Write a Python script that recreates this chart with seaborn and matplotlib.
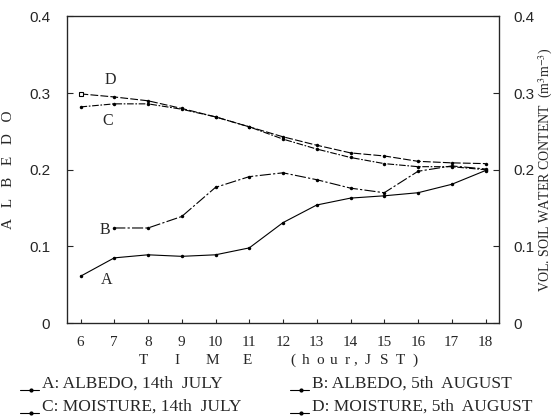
import matplotlib
matplotlib.use("Agg")
import matplotlib.pyplot as plt
import seaborn as sns
import pandas as pd
import numpy as np
from matplotlib.lines import Line2D

hours = [6, 7, 8, 9, 10, 11, 12, 13, 14, 15, 16, 17, 18]
albedo_jul = [0.061, 0.085, 0.089, 0.087, 0.089, 0.098, 0.131, 0.154, 0.163, 0.166, 0.170, 0.181, 0.199]
albedo_aug = [np.nan, 0.124, 0.124, 0.139, 0.177, 0.191, 0.196, 0.187, 0.176, 0.170, 0.198, 0.205, 0.201]
moist_jul = [0.282, 0.286, 0.286, 0.279, 0.269, 0.256, 0.240, 0.227, 0.216, 0.208, 0.204, 0.204, 0.200]
moist_aug = [0.299, 0.295, 0.290, 0.280, 0.269, 0.256, 0.243, 0.232, 0.222, 0.218, 0.211, 0.209, 0.208]
series_names = ["A", "B", "C", "D"]
legend_labels = ["A: ALBEDO, 14th  JULY", "B: ALBEDO, 5th  AUGUST",
                 "C: MOISTURE, 14th  JULY", "D: MOISTURE, 5th  AUGUST"]
y_ticks = [0, 0.1, 0.2, 0.3, 0.4]
y_ticklabels = ["0", "0.1", "0.2", "0.3", "0.4"]
xlabel_chars = ["T", "I", "M", "E", "(", "h", "o", "u", "r", ",", "J", "S", "T", ")"]

sns.set_style("ticks")
plt.rcParams["font.family"] = ["Liberation Serif", "DejaVu Serif"]
plt.rcParams["mathtext.fontset"] = "stix"

df = pd.DataFrame({"hour": hours * 4,
                   "value": albedo_jul + albedo_aug + moist_jul + moist_aug,
                   "series": sum([[s] * len(hours) for s in series_names], [])})

W, H = 555, 419
fig = plt.figure(figsize=(5.55, 4.19), dpi=100)
ax = fig.add_axes([67 / W, 1 - 323 / H, (499 - 67) / W, (323 - 16.5) / H])

styles = {"A": "-", "B": (0, (10, 2, 2, 2)), "C": (0, (6, 1.5, 1.5, 1.5)), "D": (0, (7, 2))}
for s in series_names:
    sub = df[df["series"] == s].dropna()
    sns.lineplot(data=sub, x="hour", y="value", ax=ax, color="black", lw=0.8,
                 linestyle=styles[s], marker="o", markersize=2.5, markeredgewidth=0,
                 legend=False)
ax.plot(hours[0], moist_aug[0], marker="s", markersize=3.5, mfc="white", mec="black", mew=0.8)

ax.set_xlim(5.6, 18.4)
ax.set_ylim(0, 0.4)
ax.set_xticks(hours)
ax.set_xticklabels([str(h) for h in hours], fontsize=11)
ax.set_yticks(y_ticks)
ax.set_yticklabels(y_ticklabels, fontsize=11, family="Liberation Sans")
ax.tick_params(axis="y", direction="in", length=4, width=0.8, pad=12)
ax.tick_params(axis="x", direction="in", length=3, width=0.8, pad=9)
for sp in ax.spines.values():
    sp.set_linewidth(0.9)
    sp.set_visible(True)
ax.set_xlabel("")
ax.set_ylabel("A   L   B   E   D   O", fontsize=11, labelpad=10)

ax2 = ax.twinx()
ax2.set_ylim(0, 0.4)
ax2.set_yticks(y_ticks)
ax2.set_yticklabels(y_ticklabels, fontsize=11, family="Liberation Sans")
ax2.tick_params(direction="in", length=4, width=0.8, pad=10)
ax2.set_ylabel(r"VOL. SOIL WATER CONTENT  (m$^3$m$^{-3}$)", fontsize=10, labelpad=2)

# x-axis title, letter-spaced
xl_pos = [143, 177, 212, 247, 293, 306, 320, 334, 347, 355, 368, 384, 400, 415]
for ch, px in zip(xlabel_chars, xl_pos):
    fig.text(px / W, 1 - 360 / H, ch, fontsize=11, ha="center", va="center")

# Curve letters
ax.text(6.87, 0.317, "D", fontsize=11.5, ha="center", va="center")
ax.text(6.82, 0.263, "C", fontsize=11.5, ha="center", va="center")
ax.text(6.72, 0.122, "B", fontsize=11.5, ha="center", va="center")
ax.text(6.77, 0.056, "A", fontsize=11.5, ha="center", va="center")

# Legend (bottom, 2x2)
pos = [(20, 384), (290, 384), (20, 407), (290, 407)]
for (px, py), lab in zip(pos, legend_labels):
    x = px / W
    y = 1 - py / H
    yl = y - 6 / H
    fig.add_artist(Line2D([x, x + 19 / W], [yl, yl], color="black", lw=0.8,
                          transform=fig.transFigure))
    fig.add_artist(Line2D([x + 11 / W], [yl], marker="o", markersize=2, color="black",
                          transform=fig.transFigure))
    fig.text(x + 22 / W, y, lab, fontsize=12.5, ha="left", va="center")

fig.savefig("out.png", dpi=100)
